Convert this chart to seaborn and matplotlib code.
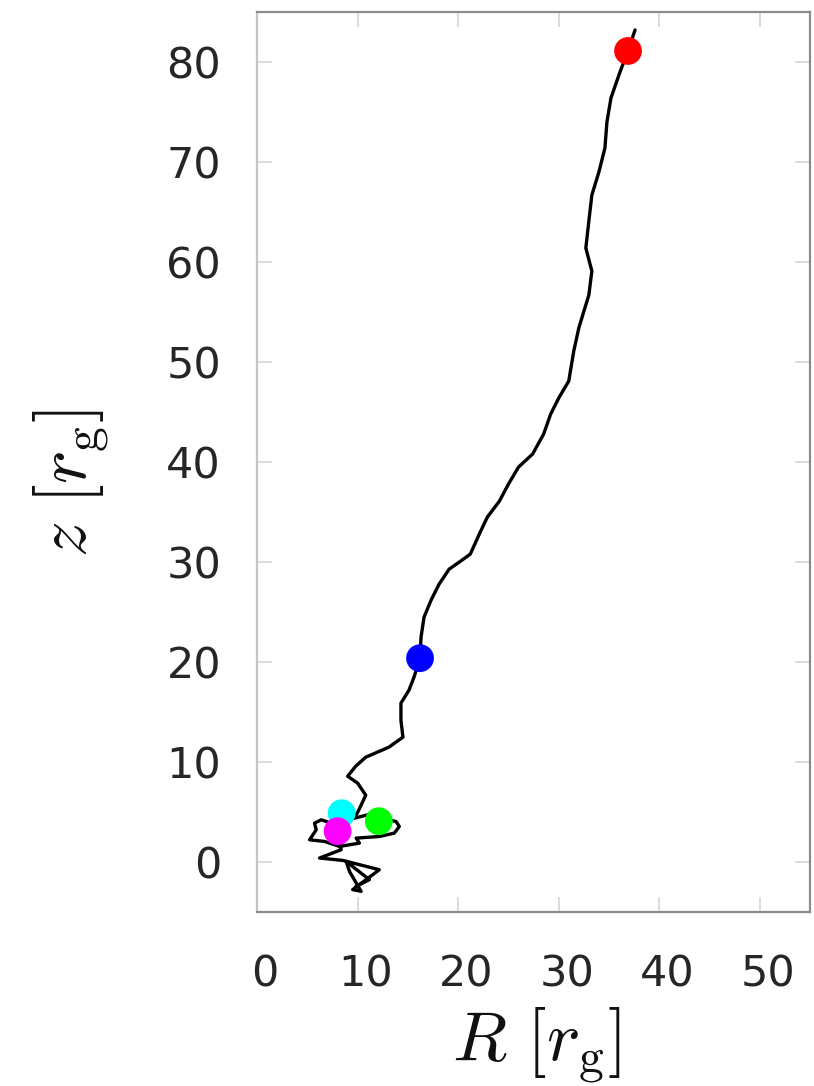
import matplotlib
matplotlib.use("Agg")
import matplotlib.pyplot as plt
import matplotlib.transforms as mtransforms
import seaborn as sns
import pandas as pd

# Trajectory of the tracked blob in the (R, z) plane, in units of r_g
R_track = [37.6, 36.9, 36.1, 35.2, 34.8, 34.6, 34.0, 33.3, 33.0, 32.7, 33.3, 33.0,
           32.3, 32.0, 31.5, 31.0, 30.0, 29.2, 28.5, 27.4, 26.0, 25.0, 24.1, 22.9,
           22.1, 21.2, 20.1, 19.1, 18.1, 17.3, 16.6, 16.3, 16.2, 15.6, 15.1, 14.3,
           14.3, 14.5, 13.1, 10.8, 9.8, 9.0, 10.0, 10.8, 10.1, 9.67, 10.99, 13.81,
           14.14, 13.64, 12.15, 9.84, 10.17, 8.18, 6.70, 5.21, 5.87, 5.70, 6.37,
           7.86, 8.35, 6.20, 8.51, 12.15, 10.83, 9.50, 10.34, 9.18, 8.85, 11.16, 9.84]
z_track = [83.2, 81.1, 79.0, 76.4, 74.0, 71.4, 69.0, 66.7, 64.1, 61.4, 59.1, 56.7,
           54.4, 53.4, 51.1, 48.1, 46.4, 44.8, 42.8, 40.8, 39.5, 37.8, 36.1, 34.5,
           32.8, 30.8, 30.0, 29.3, 27.8, 26.2, 24.5, 22.5, 20.4, 18.5, 17.2, 15.9,
           14.2, 12.5, 11.5, 10.5, 9.6, 8.6, 7.9, 6.7, 5.2, 4.40, 4.74, 4.07,
           3.57, 2.91, 2.57, 2.41, 1.91, 1.58, 2.08, 2.24, 3.24, 3.91, 4.24,
           3.74, 1.25, 0.42, 0.18, -0.75, -1.74, -2.74, -2.91, -0.92, 0.08, -1.74, -2.41]

# Highlighted snapshots along the trajectory
snap_R = [8.4, 8.0, 12.1, 16.2, 36.9]
snap_z = [4.9, 3.1, 4.1, 20.4, 81.1]
snap_colors = ["#00ffff", "#ff00ff", "#00ff00", "#0000ff", "#ff0000"]

x_ticks = [0, 10, 20, 30, 40, 50]
y_ticks = [0, 10, 20, 30, 40, 50, 60, 70, 80]

sns.set_style("white")
plt.rcParams["mathtext.fontset"] = "cm"
plt.rcParams["font.family"] = ["DejaVu Sans"]

fig = plt.figure(figsize=(8.14, 10.86), dpi=100)
ax = fig.add_axes([0.316, 0.160, 0.679, 0.829])

track = pd.DataFrame({"R": R_track, "z": z_track})
sns.lineplot(data=track, x="R", y="z", sort=False, estimator=None,
             color="black", linewidth=2.4, ax=ax)

snaps = pd.DataFrame({"R": snap_R, "z": snap_z, "c": snap_colors})
sns.scatterplot(data=snaps, x="R", y="z", hue="c", palette=dict(zip(snap_colors, snap_colors)),
                s=400, edgecolor="none", legend=False, ax=ax, zorder=3)

ax.set_xlim(0, 55)
ax.set_ylim(-5, 85)
ax.set_xticks(x_ticks)
ax.set_yticks(y_ticks)
ax.set_xticklabels([str(v) for v in x_ticks])
ax.set_yticklabels([str(v) for v in y_ticks])

ax.tick_params(axis="both", which="major", direction="in", length=11, width=1.2,
               color="#d4d4d4", labelsize=31, labelcolor="#262626",
               top=True, right=True, bottom=True, left=True)
ax.tick_params(axis="x", pad=30)
ax.tick_params(axis="y", pad=26)

# nudge the R tick labels slightly to the right of their ticks
shift = mtransforms.ScaledTranslation(8 / 100, 0, fig.dpi_scale_trans)
for lbl in ax.get_xticklabels():
    lbl.set_transform(lbl.get_transform() + shift)

for side in ["top", "bottom", "right"]:
    ax.spines[side].set_color("#8c8c8c")
    ax.spines[side].set_linewidth(1.6)
ax.spines["left"].set_color("#c4c4c4")
ax.spines["left"].set_linewidth(1.6)

ax.set_xlabel(r"$R\ [r_{\mathrm{g}}]$", fontsize=51, color="#111111")
ax.set_ylabel(r"$z\ [r_{\mathrm{g}}]$", fontsize=51, color="#111111")
ax.xaxis.set_label_coords(0.505, -0.103)
ax.yaxis.set_label_coords(-0.265, 0.477)

fig.savefig("out.png", dpi=100)
